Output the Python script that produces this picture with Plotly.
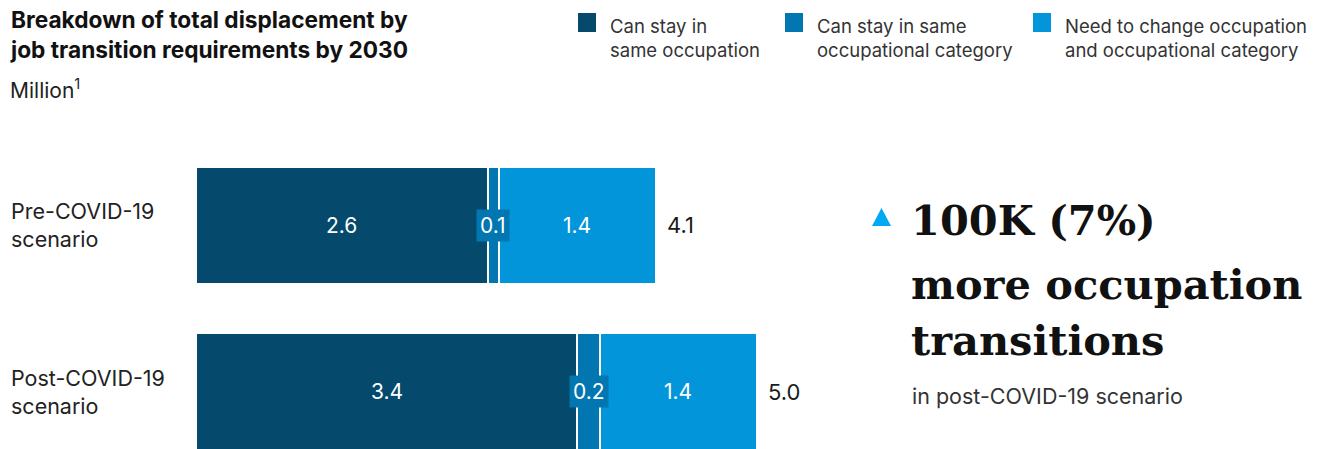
import plotly.graph_objects as go

scenarios = ["Pre-COVID-19<br>scenario", "Post-COVID-19<br>scenario"]
series_names = [
    "Can stay in<br>same occupation",
    "Can stay in same<br>occupational category",
    "Need to change occupation<br>and occupational category",
]
same_occupation = [2.6, 3.4]
same_category = [0.1, 0.2]
change_both = [1.4, 1.4]
totals = [4.1, 5.0]
colors = ["#05496C", "#0276B0", "#0395DA"]

W, H = 1324, 449
L, R, T, B = 196, 500, 142, 0
PW, PH = W - L - R, H - T - B


def px(x):
    return (x - L) / PW


def py(y):
    return (H - B - y) / PH


font = "Inter, 'Noto Sans', sans-serif"
serif = "'DejaVu Serif', serif"

fig = go.Figure()
values = [same_occupation, same_category, change_both]
for name, vals, col in zip(series_names, values, colors):
    fig.add_trace(go.Bar(
        y=scenarios, x=vals, name=name, orientation="h",
        marker=dict(color=col, line=dict(color="white", width=2)),
        showlegend=False, hoverinfo="x",
    ))

annotations = []
# segment labels, totals and category labels
for i, sc in enumerate(scenarios):
    start = 0
    for k, vals in enumerate(values):
        v = vals[i]
        a = dict(x=start + v / 2, y=sc, text=f"{v:.1f}", showarrow=False,
                 font=dict(family=font, size=21, color="white"))
        if k == 1:
            a.update(bgcolor=colors[1], borderpad=3)
        annotations.append(a)
        start += v
    annotations.append(dict(x=totals[i], y=sc, text=f"{totals[i]:.1f}", showarrow=False,
                            xanchor="left", xshift=9,
                            font=dict(family=font, size=22, color="#1a1a1a")))
    annotations.append(dict(x=px(9), xref="paper", y=sc, text=scenarios[i], showarrow=False,
                            xanchor="left", align="left",
                            font=dict(family=font, size=21.5, color="#222")))

# title
annotations.append(dict(x=px(8), y=py(4), xref="paper", yref="paper", xanchor="left", yanchor="top",
                        align="left", showarrow=False,
                        text="<b>Breakdown of total displacement by<br>job transition requirements by 2030</b>",
                        font=dict(family=font, size=22.7, color="#111")))
annotations.append(dict(x=px(8), y=py(89), xref="paper", yref="paper", xanchor="left", yanchor="middle",
                        align="left", showarrow=False, text="Million<sup>1</sup>",
                        font=dict(family=font, size=21, color="#222")))

# legend
shapes = []
leg_x = [578, 785, 1033]
for lx, name, col in zip(leg_x, series_names, colors):
    shapes.append(dict(type="rect", xref="paper", yref="paper",
                       x0=px(lx), x1=px(lx + 18), y0=py(32), y1=py(13),
                       fillcolor=col, line=dict(width=0)))
    annotations.append(dict(x=px(lx + 30), y=py(38), xref="paper", yref="paper",
                            xanchor="left", yanchor="middle", align="left", showarrow=False,
                            text=name, font=dict(family=font, size=18.5, color="#333")))

# callout
tri = f"M {px(872)},{py(226)} L {px(891)},{py(226)} L {px(881.5)},{py(208)} Z"
shapes.append(dict(type="path", xref="paper", yref="paper", path=tri,
                   fillcolor="#00A9F4", line=dict(width=0)))
callout_lines = ["100K (7%)", "more occupation", "transitions"]
callout_y = [220, 284, 340]
for line, ly in zip(callout_lines, callout_y):
    annotations.append(dict(x=px(909), y=py(ly), xref="paper", yref="paper", xanchor="left",
                            yanchor="middle", showarrow=False, text=f"<b>{line}</b>",
                            font=dict(family=serif, size=41.5, color="#111")))
annotations.append(dict(x=px(910), y=py(396), xref="paper", yref="paper", xanchor="left",
                        yanchor="middle", align="left", showarrow=False, text="in post-COVID-19 scenario",
                        font=dict(family=font, size=21.5, color="#333")))

fig.update_layout(
    barmode="stack", bargap=0.3,
    width=W, height=H,
    margin=dict(l=L, r=R, t=T, b=B, pad=0),
    paper_bgcolor="white", plot_bgcolor="white",
    xaxis=dict(range=[0, PW / 112.2], visible=False, fixedrange=True),
    yaxis=dict(range=[1.344, -0.5], visible=False, fixedrange=True),
    annotations=annotations, shapes=shapes,
)

fig.write_html("out.html", config={"displayModeBar": False},
               post_script="document.body.style.margin='0';")
